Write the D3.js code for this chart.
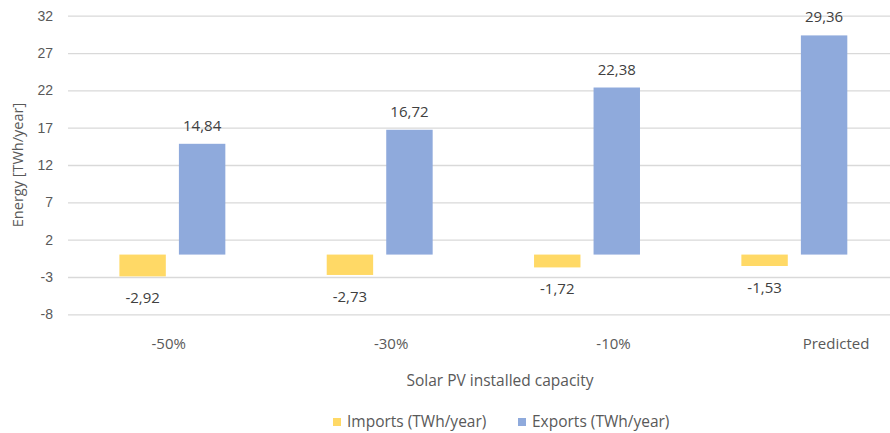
<!DOCTYPE html>
<html>
<head>
<meta charset="utf-8">
<script src="https://cdn.jsdelivr.net/npm/d3@7"></script>
<style>
  html, body { margin: 0; padding: 0; background: #fff; }
  svg { display: block; font-family: "Open Sans", "Noto Sans", sans-serif; }
</style>
</head>
<body>
<svg id="chart" width="890" height="433"></svg>
<script>
// Scenario categories along the x axis
const categories = ["-50%", "-30%", "-10%", "Predicted"];
// Annual energy per scenario (TWh/year)
const imports = [-2.92, -2.73, -1.72, -1.53];
const exports = [14.84, 16.72, 22.38, 29.36];
// Y axis ticks
const yTicks = [-8, -3, 2, 7, 12, 17, 22, 27, 32];

const seriesNames = ["Imports (TWh/year)", "Exports (TWh/year)"];
const seriesColors = ["#FFD966", "#8FAADC"];
const seriesValues = [imports, exports];

const svg = d3.select("#chart");
const W = 890;
const textColor = "#595959";

const y = d3.scaleLinear().domain([-8, 32]).range([314.3, 15.7]);

const x0 = d3.scaleBand()
  .domain(categories)
  .range([68.7, 898])
  .paddingInner(0.489)
  .paddingOuter(0.2445);

const x1 = d3.scaleBand()
  .domain([0, 1])
  .range([0, x0.bandwidth()])
  .paddingInner(0.22)
  .paddingOuter(0);

// Category label positions along the bottom
const xLabel = d3.scalePoint().domain(categories).range([168.7, 836]);

// Plain hyphen for negative numbers
const hyphen = s => s.replace("\u2212", "-");

// Gridlines + tick labels
const yAxis = d3.axisLeft(y)
  .tickValues(yTicks)
  .tickSize(-(W - 68))
  .tickFormat(d => hyphen(d3.format("d")(d)));

const gy = svg.append("g")
  .attr("transform", "translate(68,0)")
  .call(yAxis);
gy.select(".domain").remove();
gy.selectAll(".tick line").attr("stroke", "#d9d9d9").attr("stroke-width", 1.3);
gy.selectAll(".tick text")
  .attr("x", -15)
  .attr("fill", textColor)
  .style("font-size", "14px");

// Bars
const groups = svg.append("g").selectAll("g")
  .data(categories)
  .join("g")
  .attr("transform", d => `translate(${x0(d)},0)`);

groups.selectAll("rect")
  .data((d, i) => seriesValues.map((vals, s) => ({ s, v: vals[i] })))
  .join("rect")
  .attr("x", d => x1(d.s))
  .attr("width", x1.bandwidth())
  .attr("y", d => y(Math.max(0, d.v)))
  .attr("height", d => Math.abs(y(d.v) - y(0)))
  .attr("fill", d => seriesColors[d.s]);

// Value labels
const fmt = v => hyphen(d3.format(".2f")(v)).replace(".", ",");
groups.selectAll("text.val")
  .data((d, i) => seriesValues.map((vals, s) => ({ s, v: vals[i] })))
  .join("text")
  .attr("class", "val")
  .attr("x", d => x1(d.s) + x1.bandwidth() / 2)
  .attr("y", d => d.v >= 0 ? y(d.v) - 13 : y(d.v) + 27)
  .attr("text-anchor", "middle")
  .attr("fill", "#404040")
  .style("font-size", "15px")
  .text(d => fmt(d.v));

// Category labels
svg.append("g").selectAll("text")
  .data(categories)
  .join("text")
  .attr("x", d => xLabel(d))
  .attr("y", 349)
  .attr("text-anchor", "middle")
  .attr("fill", textColor)
  .style("font-size", "15px")
  .text(d => d);

// Axis titles
svg.append("text")
  .attr("x", 500)
  .attr("y", 386)
  .attr("text-anchor", "middle")
  .attr("fill", textColor)
  .style("font-size", "15.5px")
  .text("Solar PV installed capacity");

svg.append("text")
  .attr("transform", `translate(23,${(y(-8) + y(32)) / 2}) rotate(-90)`)
  .attr("text-anchor", "middle")
  .attr("fill", textColor)
  .style("font-size", "14.5px")
  .text("Energy [TWh/year]");

// Legend
const legendX = [333, 518];
const legend = svg.append("g").selectAll("g")
  .data(seriesNames)
  .join("g")
  .attr("transform", (d, i) => `translate(${legendX[i]},422)`);
legend.append("rect")
  .attr("x", 0).attr("y", -4)
  .attr("width", 8).attr("height", 8)
  .attr("fill", (d, i) => seriesColors[i]);
legend.append("text")
  .attr("x", 14)
  .attr("y", 5)
  .attr("fill", textColor)
  .style("font-size", "15.5px")
  .text(d => d);
</script>
</body>
</html>
